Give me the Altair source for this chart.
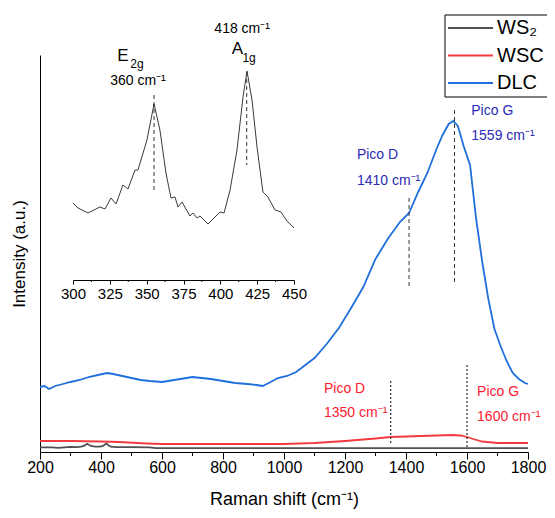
import altair as alt
import pandas as pd

# ---------------- data ----------------
series_names = ["WS₂", "WSC", "DLC"]

dlc_x = [200, 215, 230, 250, 275, 300, 330, 360, 390, 420, 440, 470, 500, 530, 560, 600,
         640, 680, 700, 730, 760, 800, 840, 880, 910, 930, 950, 980, 1010, 1040, 1070, 1100,
         1140, 1180, 1220, 1260, 1300, 1340, 1380, 1410, 1440, 1470, 1500, 1520, 1540, 1555,
         1570, 1590, 1610, 1630, 1650, 1670, 1690, 1710, 1730, 1750, 1770, 1790, 1800]
dlc_y = [65, 66, 63, 66, 68, 70, 72, 75, 77, 79, 78, 76, 74, 72, 71, 70,
         72, 74, 75, 74, 73, 71, 69, 68, 67, 66, 69, 74, 76, 80, 87, 94,
         108, 124, 144, 165, 193, 213, 230, 239, 260, 279, 303, 317, 328, 331,
         326, 305, 287, 233, 190, 153, 123, 106, 91, 79, 73, 69, 68]

wsc_x = [200, 300, 400, 460, 550, 600, 700, 800, 900, 1000, 1100, 1200, 1300, 1350, 1400,
         1450, 1500, 1550, 1580, 1600, 1620, 1650, 1700, 1750, 1800]
wsc_y = [11, 11, 10.5, 10, 8.5, 8, 8, 8, 8, 8, 9, 11, 13.5, 15, 15.5,
         16, 16.5, 17, 16.5, 15, 13, 10.5, 9, 9, 9]

ws2_x = [200, 240, 260, 280, 300, 320, 335, 345, 355, 365, 380, 395, 405, 412, 418, 424,
         432, 450, 500, 560, 580, 700, 800, 900, 1000, 1200, 1400, 1600, 1800]
ws2_y = [4.7, 4.7, 4.2, 4.7, 5.2, 4.8, 5.3, 6.3, 8.2, 6.3, 5.3, 5.3, 5.8, 7.2, 8.6, 6.8,
         5.3, 4.8, 4.8, 4.6, 3.8, 3.8, 3.8, 3.8, 3.8, 3.8, 3.8, 3.8, 3.8]

inset_x = [300, 303.4, 310.2, 318.3, 321.7, 325.8, 329.2, 333.9, 337.3, 342.1, 344.1, 350.2,
           355.0, 359.0, 363.1, 366.5, 369.2, 371.3, 374.0, 379.4, 381.4, 384.2, 386.2,
           391.6, 399.8, 402.5, 406.6, 411.3, 415.4, 418.1, 421.5, 424.9, 428.9, 432.3,
           437.1, 441.2, 445.2, 450]
inset_y = [77, 72, 67, 73, 71, 82, 76, 95, 91, 110, 110, 140,
           176, 150, 107, 82, 83, 73, 78, 64, 67, 62, 64,
           56, 68, 67, 90, 130, 183, 209, 180, 133, 88, 83,
           70, 68, 59, 52]

main_ticks = list(range(200, 1801, 200))
main_minor = list(range(300, 1800, 200))
inset_ticks = list(range(300, 451, 25))
inset_minor = [312.5, 337.5, 362.5, 387.5, 412.5, 437.5]

colors = ["#505050", "#f23a3f", "#1f6fdc"]

# ---------------- frames ----------------
rows = []
for name, xs, ys in [("WS₂", ws2_x, ws2_y), ("WSC", wsc_x, wsc_y), ("DLC", dlc_x, dlc_y)]:
    for i, (a, b) in enumerate(zip(xs, ys)):
        rows.append({"x": a, "y": b, "series": name, "order": i})
spec_df = pd.DataFrame(rows)

FONT = "Liberation Sans"
W, H = 488, 397

xscale = alt.Scale(domain=[200, 1800], nice=False, zero=False)
yscale = alt.Scale(domain=[0, H], nice=False, zero=False)
cscale = alt.Scale(domain=series_names, range=colors)

lines = alt.Chart(spec_df).mark_line(strokeWidth=1.8).encode(
    x=alt.X("x:Q", scale=xscale,
            axis=alt.Axis(values=main_ticks, format="d", title="Raman shift (cm⁻¹)",
                          grid=False, tickSize=7, tickColor="black", domainColor="black",
                          labelFontSize=16, labelColor="black", labelPadding=0,
                          titleFontSize=18, titleFontWeight="normal", titleColor="black",
                          titlePadding=15, labelFlush=False)),
    y=alt.Y("y:Q", scale=yscale,
            axis=alt.Axis(title="Intensity (a.u.)", labels=False, ticks=False, grid=False,
                          domainColor="black", titleFontSize=17, titleFontWeight="normal",
                          titleColor="black", titlePadding=12)),
    color=alt.Color("series:N", scale=cscale, legend=None),
    order="order:Q",
)

minor_df = pd.DataFrame({"x": main_minor})
minor = alt.Chart(minor_df).mark_rule(color="black", strokeWidth=1).encode(
    x=alt.X("x:Q", scale=xscale), y=alt.value(H), y2=alt.value(H + 4))

dash_blue_df = pd.DataFrame({"x": [1410, 1559], "y": [254, 342], "y2": [164, 169]})
dash_blue = alt.Chart(dash_blue_df).mark_rule(color="#333333", strokeWidth=1,
                                              strokeDash=[4, 3]).encode(
    x=alt.X("x:Q", scale=xscale), y=alt.Y("y:Q", scale=yscale), y2="y2:Q")

dash_red_df = pd.DataFrame({"x": [1350, 1600], "y": [71, 87], "y2": [7, 5]})
dash_red = alt.Chart(dash_red_df).mark_rule(color="black", strokeWidth=1,
                                            strokeDash=[2, 2]).encode(
    x=alt.X("x:Q", scale=xscale), y=alt.Y("y:Q", scale=yscale), y2="y2:Q")

blue_txt_df = pd.DataFrame({
    "x": [1239, 1239, 1614, 1614],
    "y": [297, 271, 341, 316],
    "t": ["Pico D", "1410 cm⁻¹", "Pico G", "1559 cm⁻¹"]})
blue_txt = alt.Chart(blue_txt_df).mark_text(align="left", baseline="middle", fontSize=14,
                                            color="#2b2bb5").encode(
    x=alt.X("x:Q", scale=xscale), y=alt.Y("y:Q", scale=yscale), text="t:N")

red_txt_df = pd.DataFrame({
    "x": [1131, 1131, 1633, 1633],
    "y": [63, 39, 60, 35],
    "t": ["Pico D", "1350 cm⁻¹", "Pico G", "1600 cm⁻¹"]})
red_txt = alt.Chart(red_txt_df).mark_text(align="left", baseline="middle", fontSize=14,
                                          color="#ff2030").encode(
    x=alt.X("x:Q", scale=xscale), y=alt.Y("y:Q", scale=yscale), text="t:N")

main = alt.layer(lines, minor, dash_blue, dash_red, blue_txt, red_txt)

# ---------------- inset ----------------
IAX = 225  # inset axis y position inside the plot (pixels from top)
ixscale = alt.Scale(domain=[300, 450], range=[33, 254], nice=False, zero=False)
iyscale = alt.Scale(domain=[0, IAX], range=[IAX, 0], nice=False, zero=False)

inset_df = pd.DataFrame({"x": inset_x, "y": inset_y, "order": list(range(len(inset_x)))})
inset_line = alt.Chart(inset_df).mark_line(color="#3a3a3a", strokeWidth=1).encode(
    x=alt.X("x:Q", scale=ixscale,
            axis=alt.Axis(values=inset_ticks, orient="bottom", offset=-(H - IAX), title=None,
                          grid=False, tickSize=4, tickColor="black", domainColor="black",
                          labelFontSize=15, labelColor="black", labelPadding=2,
                          labelFlush=False)),
    y=alt.Y("y:Q", scale=iyscale, axis=None),
    order="order:Q",
)

iminor_df = pd.DataFrame({"x": inset_minor})
iminor = alt.Chart(iminor_df).mark_rule(color="black", strokeWidth=1).encode(
    x=alt.X("x:Q", scale=ixscale), y=alt.value(IAX), y2=alt.value(IAX + 2))

idash_df = pd.DataFrame({"x": [355, 417.9], "y": [185, 208], "y2": [87, 115]})
idash = alt.Chart(idash_df).mark_rule(color="#333333", strokeWidth=1,
                                      strokeDash=[4, 3]).encode(
    x=alt.X("x:Q", scale=ixscale), y=alt.Y("y:Q", scale=iyscale), y2="y2:Q")

ibig_df = pd.DataFrame({"x": [333.9, 411.6], "y": [224, 231], "t": ["E", "A"]})
ibig = alt.Chart(ibig_df).mark_text(align="center", baseline="middle", fontSize=17,
                                    color="black").encode(
    x=alt.X("x:Q", scale=ixscale), y=alt.Y("y:Q", scale=iyscale), text="t:N")

isub_df = pd.DataFrame({"x": [343.4, 419.5], "y": [216, 222.5], "t": ["2g", "1g"]})
isub = alt.Chart(isub_df).mark_text(align="center", baseline="middle", fontSize=12,
                                    color="black").encode(
    x=alt.X("x:Q", scale=ixscale), y=alt.Y("y:Q", scale=iyscale), text="t:N")

inum_df = pd.DataFrame({"x": [344.1, 414.8], "y": [199.5, 251],
                        "t": ["360 cm⁻¹", "418 cm⁻¹"]})
inum = alt.Chart(inum_df).mark_text(align="center", baseline="middle", fontSize=14,
                                    color="black").encode(
    x=alt.X("x:Q", scale=ixscale), y=alt.Y("y:Q", scale=iyscale), text="t:N")

inset = alt.layer(inset_line, iminor, idash, ibig, isub, inum)

# ---------------- legend (drawn from the series list) ----------------
box = alt.Chart(pd.DataFrame({"k": [0]})).mark_rect(
    fill="white", stroke="black", strokeWidth=1).encode(
    x=alt.value(405), x2=alt.value(540), y=alt.value(-40), y2=alt.value(42))

leg_df = pd.DataFrame({"series": series_names})
lscale = alt.Scale(type="point", domain=series_names, range=[-27, 28], padding=0)
leg_lines = alt.Chart(leg_df).mark_rule(strokeWidth=1.8).encode(
    x=alt.value(408), x2=alt.value(453),
    y=alt.Y("series:N", scale=lscale, axis=None),
    color=alt.Color("series:N", scale=cscale, legend=None))
leg_text = alt.Chart(leg_df).mark_text(align="left", baseline="middle", fontSize=20,
                                       color="black").encode(
    x=alt.value(457),
    y=alt.Y("series:N", scale=lscale, axis=None),
    text="series:N")
legend = alt.layer(box, leg_lines, leg_text)

chart = alt.layer(main, inset, legend).resolve_scale(
    x="independent", y="independent", color="independent"
).properties(
    width=W, height=H,
    autosize=alt.AutoSizeParams(type="none"),
    padding={"left": 32, "top": 47, "right": 19, "bottom": 58},
).configure(font=FONT).configure_view(stroke=None)

chart.save("out.html", embed_options={"renderer": "svg", "actions": False})
